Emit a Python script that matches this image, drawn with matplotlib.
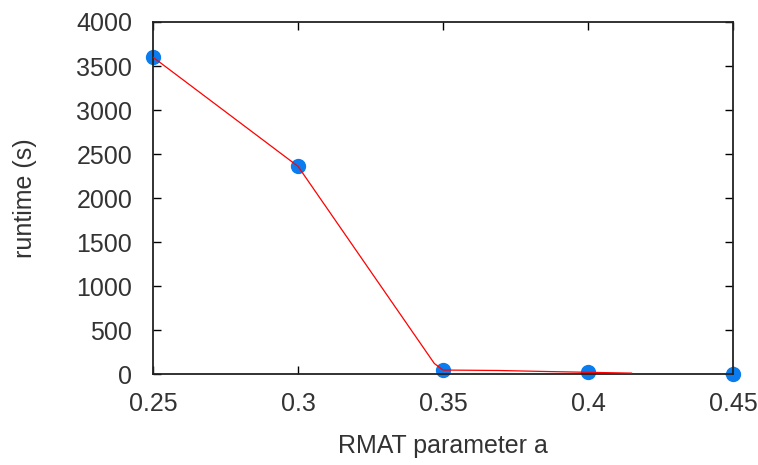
import matplotlib
matplotlib.use("Agg")
import matplotlib.pyplot as plt

# --- Data ---
param_a = [0.25, 0.30, 0.35, 0.40, 0.45]
runtime_s = [3600, 2360, 50, 20, 5]

# red trace (ends short of the last point in the original)
trace_x = [0.25, 0.30, 0.347, 0.35, 0.369, 0.386, 0.415]
trace_y = [3600, 2360, 120, 45, 40, 28, 10]

x_ticks = [0.25, 0.3, 0.35, 0.4, 0.45]
x_tick_labels = ["0.25", "0.3", "0.35", "0.4", "0.45"]
y_ticks = [0, 500, 1000, 1500, 2000, 2500, 3000, 3500, 4000]

plt.rcParams['font.family'] = ['Liberation Sans', 'DejaVu Sans']

fig = plt.figure(figsize=(7.58, 4.65), dpi=100)
ax = fig.add_axes([153 / 758, 1 - 374 / 465, 580 / 758, 352 / 465])

ax.plot(trace_x, trace_y, color='red', linewidth=0.9, zorder=3)
ax.plot(param_a, runtime_s, linestyle='none', marker='o', markersize=10,
        color='#0a7cf0', zorder=2, clip_on=False)

ax.set_xlim(0.25, 0.45)
ax.set_ylim(0, 4000)
ax.set_xticks(x_ticks)
ax.set_xticklabels(x_tick_labels)
ax.set_yticks(y_ticks)

ax.tick_params(direction='in', length=6, width=1, top=True, right=True,
               labelsize=18, labelcolor='#333333')
ax.tick_params(axis='y', pad=15)
ax.tick_params(axis='x', pad=13)
for s in ax.spines.values():
    s.set_linewidth(1.3)
    s.set_color('#222222')

ax.set_xlabel("RMAT parameter a", fontsize=18, color='#333333')
ax.xaxis.set_label_coords(0.5, -(434 - 374) / 352)
ax.set_ylabel("runtime (s)", fontsize=18, color='#333333')
ax.yaxis.set_label_coords((37 - 153) / 580, 0.5)

fig.savefig("out.png", dpi=100)
